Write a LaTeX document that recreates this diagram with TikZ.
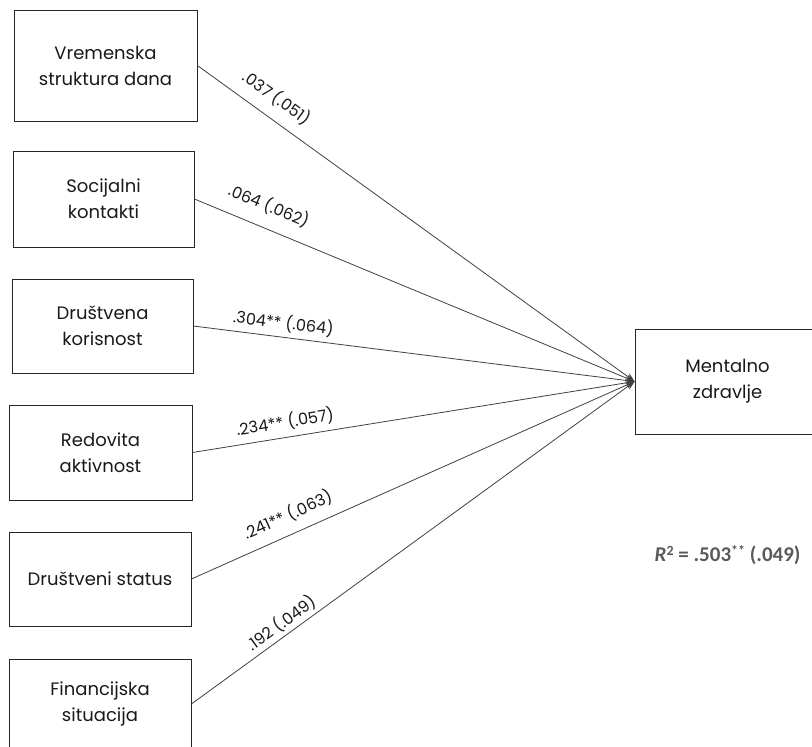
\documentclass[tikz,border=0pt]{standalone}
\usepackage{fontspec}
\setmainfont{Poppins}
\newfontfamily\rfont{Carlito}
\usetikzlibrary{arrows.meta}
\definecolor{rgray}{RGB}{89,89,89}
\tikzset{
  varbox/.style={draw=black!85, line width=0.8pt, align=center, inner sep=0pt,
    font=\fontsize{18}{26}\selectfont, text=black!90},
  path/.style={draw=black!75, line width=0.8pt, -{Stealth[length=9pt,width=7pt]}},
  coef/.style={sloped, inner sep=1pt, font=\fontsize{16}{18}\selectfont, text=black!90}
}
\begin{document}
\begin{tikzpicture}[x=1pt,y=-1pt]
\useasboundingbox (0,0) rectangle (812,747);
\node[varbox, minimum width=183pt, minimum height=111pt] (v1) at (105.5,65.5) {Vremenska\\struktura dana};
\node[varbox, minimum width=181pt, minimum height=96pt] (v2) at (103.5,199) {Socijalni\\kontakti};
\node[varbox, minimum width=181pt, minimum height=94pt] (v3) at (102.5,326) {Društvena\\korisnost};
\node[varbox, minimum width=183pt, minimum height=95pt] (v4) at (100.5,452.5) {Redovita\\aktivnost};
\node[varbox, minimum width=182pt, minimum height=94pt] (v5) at (100,579) {Društveni status};
\node[varbox, minimum width=182pt, minimum height=90pt] (v6) at (100,704) {Financijska\\situacija};
\node[varbox, minimum width=185pt, minimum height=105pt] (mz) at (727.5,381.5) {Mentalno\\zdravlje};
\path[path] (v1.east) -- node[coef, pos=0.155, above=10pt] {.037 (.051)} (mz.west);
\path[path] (v2.east) -- node[coef, pos=0.15, above=12pt] {.064 (.062)} (mz.west);
\path[path] (v3.east) -- node[coef, pos=0.20, above=4pt] {.304** (.064)} (mz.west);
\path[path] (v4.east) -- node[coef, pos=0.215, above=5pt] {.234** (.057)} (mz.west);
\path[path] (v5.east) -- node[coef, pos=0.235, above=9pt] {.241** (.063)} (mz.west);
\path[path] (v6.east) -- node[coef, pos=0.22, above=2pt] {.192 (.049)} (mz.west);
\node[font=\rfont\bfseries\fontsize{21}{24}\selectfont, text=rgray, anchor=east] (r2) at (804,555) {\textit{R}\raisebox{0.3em}{\fontsize{14}{16}\selectfont 2} = .503\raisebox{0.3em}{\fontsize{14}{16}\selectfont **} (.049)};
\end{tikzpicture}
\end{document}
